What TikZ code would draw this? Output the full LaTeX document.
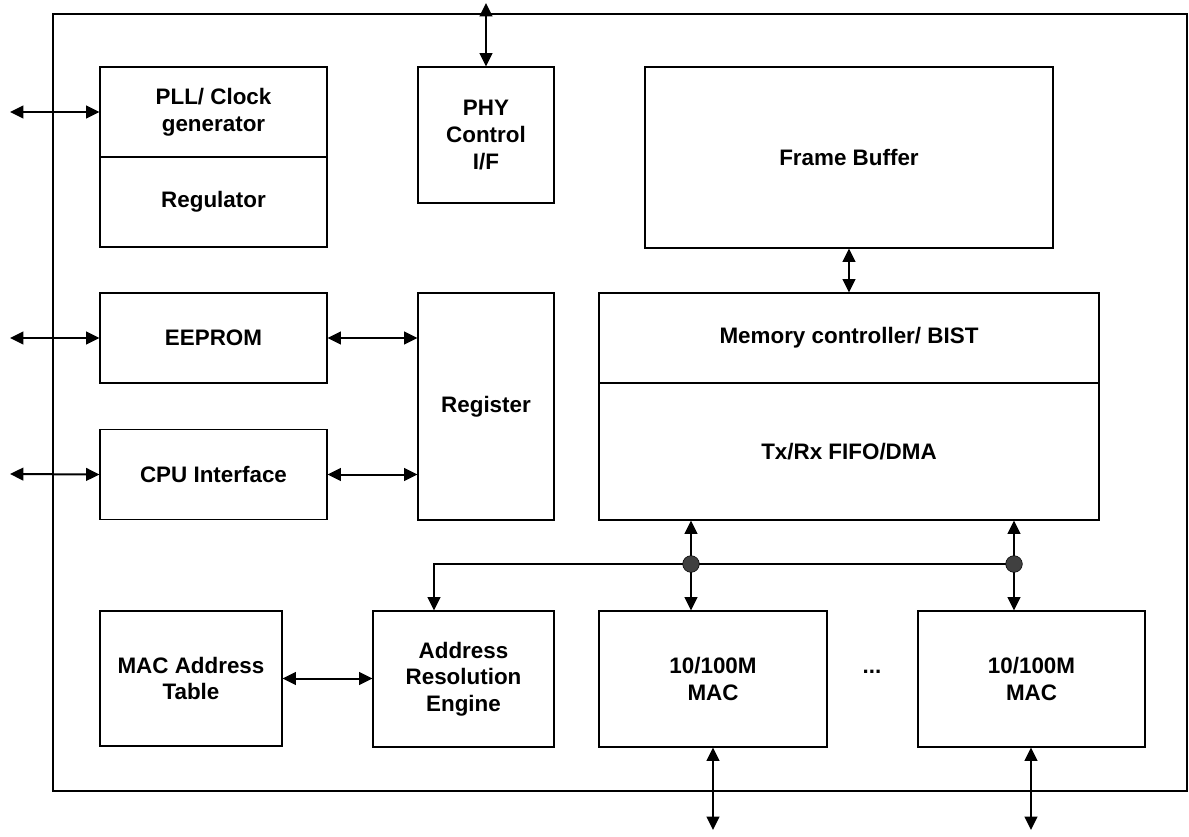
\documentclass[tikz,border=0pt]{standalone}
\usepackage{fontspec}
\setmainfont{Liberation Sans}
\usetikzlibrary{arrows.meta}
\tikzstyle{bloc} = [rectangle, draw=black, line width=0.8pt, inner sep=0pt, align=center, font=\bfseries\fontsize{16.8}{20}\selectfont]
\tikzstyle{fleche} = [{Triangle[length=10pt,width=9.5pt]}-{Triangle[length=10pt,width=9.5pt]}, line width=1.5pt]
\tikzstyle{bus} = [-{Triangle[length=10pt,width=9.5pt]}, line width=1.5pt]
\tikzstyle{point} = [circle, fill=black!75, draw=black, inner sep=0pt, minimum size=12.5pt]

\begin{document}
\begin{tikzpicture}[x=0.75pt, y=-0.75pt]
        \useasboundingbox (0,0) rectangle (1189,836);
        \draw[line width=1.5pt] (53,14) rectangle (1187,791);

        \node (pll) [bloc, minimum width=170.25pt, minimum height=67.5pt] at (213.5,112) {PLL/ Clock\\generator};
        \node (reg) [bloc, minimum width=170.25pt, minimum height=67.5pt] at (213.5,202) {Regulator};
        \node (eep) [bloc, minimum width=170.25pt, minimum height=67.5pt] at (213.5,338) {EEPROM};
        \node (cpu) [bloc, minimum width=170.25pt, minimum height=67.5pt] at (213.5,474.5) {CPU Interface};
        \node (phy) [bloc, minimum width=102pt, minimum height=102pt] at (486,135) {PHY\\Control\\I/F};
        \node (regi) [bloc, minimum width=102pt, minimum height=170.25pt] at (486,406.5) {Register};
        \node (fb) [bloc, minimum width=306pt, minimum height=135.75pt] at (849,157.5) {Frame Buffer};
        \node (mem) [bloc, minimum width=375pt, minimum height=67.5pt] at (849,338) {Memory controller/ BIST};
        \node (txrx) [bloc, minimum width=375pt, minimum height=102.75pt] at (849,451.5) {Tx/Rx FIFO/DMA};
        \node (tab) [bloc, minimum width=136.5pt, minimum height=101.25pt] at (191,678.5) {MAC Address\\Table};
        \node (are) [bloc, minimum width=135.75pt, minimum height=102pt] at (463.5,679) {Address\\Resolution\\Engine};
        \node (mac1) [bloc, minimum width=171pt, minimum height=102pt] at (713,679) {10/100M\\MAC};
        \node (mac2) [bloc, minimum width=170.25pt, minimum height=102pt] at (1031.5,679) {10/100M\\MAC};
        \node (etc) [bloc, draw=none] at (872,672) {...};

        \coordinate (e1) at (10,112);
        \coordinate (e2) at (10,338);
        \coordinate (e3) at (10,474);
        \coordinate (e4) at (486,3);
        \coordinate (e5) at (713,830);
        \coordinate (e6) at (1031,830);
        \coordinate (j1) at (691,564);
        \coordinate (j2) at (1014,564);
        \coordinate (k) at (434,564);

        \draw[fleche] (e1) -- (pll.west);
        \draw[fleche] (e2) -- (eep.west);
        \draw[fleche] (e3) -- (cpu.west);
        \draw[fleche] (e4) -- (phy.north);
        \draw[fleche] (eep.east) -- (eep.east -| regi.west);
        \draw[fleche] (cpu.east) -- (cpu.east -| regi.west);
        \draw[fleche] (fb.south) -- (mem.north);
        \draw[fleche] (tab.east) -- (tab.east -| are.west);
        \draw[fleche] (mac1.south) -- (e5);
        \draw[fleche] (mac2.south -| e6) -- (e6);

        \draw[bus] (j2) -- (k) -- (k |- are.north);
        \draw[bus] (j1) -- (j1 |- txrx.south);
        \draw[bus] (j1) -- (j1 |- mac1.north);
        \draw[bus] (j2) -- (j2 |- txrx.south);
        \draw[bus] (j2) -- (j2 |- mac2.north);
        \node (p1) [point] at (j1) {};
        \node (p2) [point] at (j2) {};
\end{tikzpicture}
\end{document}
